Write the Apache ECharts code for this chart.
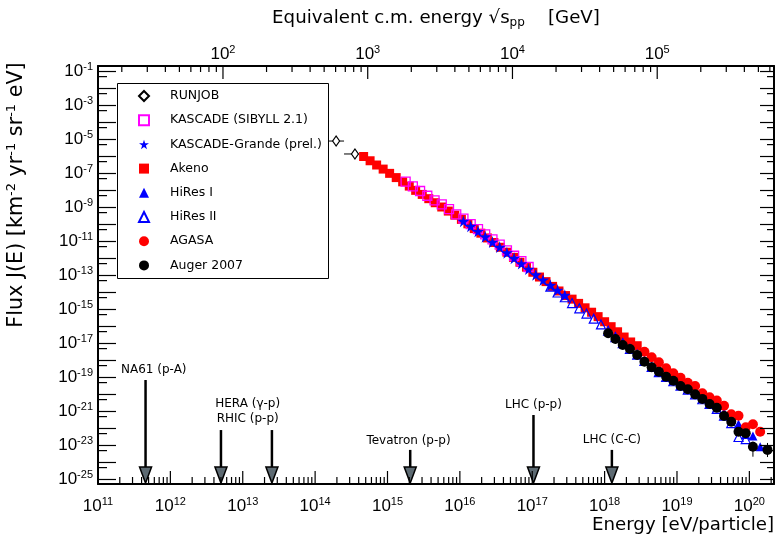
<!DOCTYPE html>
<html>
<head>
<meta charset="utf-8">
<script src="https://cdn.jsdelivr.net/npm/echarts@6/dist/echarts.min.js"></script>
<style>
html, body { margin: 0; padding: 0; background: #fff; }
#chart { width: 777px; height: 537px; }
</style>
</head>
<body>
<div id="chart"></div>
<script>
// axis ranges (energy in eV, flux in km^-2 yr^-1 sr^-1 eV^-1)
const xMin = 1e11, xMax = 2.19e20;
const yMin = 5.43e-26, yMax = 0.211;
const protonMass = 0.938; // GeV, for the sqrt(s) axis on top

const xMajor = [1e11, 1e12, 1e13, 1e14, 1e15, 1e16, 1e17, 1e18, 1e19, 1e20];
const yMajor = [1e-25, 1e-24, 1e-23, 1e-22, 1e-21, 1e-20, 1e-19, 1e-18, 1e-17, 1e-16, 1e-15, 1e-14, 1e-13,
  1e-12, 1e-11, 1e-10, 1e-9, 1e-8, 1e-7, 1e-6, 1e-5, 1e-4, 1e-3, 1e-2, 1e-1];
const yLabels = [1e-25, 1e-23, 1e-21, 1e-19, 1e-17, 1e-15, 1e-13, 1e-11, 1e-9, 1e-7, 1e-5, 1e-3, 1e-1];
const topMajor = [1e2, 1e3, 1e4, 1e5];

// data [E, J]
const runjob = [[1.95e14, 8.13e-6], [3.55e14, 1.41e-6]];
const akeno = [
  [4.68e14, 1.00e-6], [5.75e14, 5.62e-7], [7.08e14, 3.16e-7], [8.71e14, 1.82e-7], [1.07e15, 1.02e-7],
  [1.32e15, 5.75e-8], [1.62e15, 3.24e-8], [2.00e15, 1.82e-8], [2.45e15, 1.02e-8], [3.02e15, 5.89e-9],
  [3.72e15, 3.31e-9], [4.57e15, 1.91e-9], [5.62e15, 1.07e-9], [6.92e15, 6.17e-10], [8.51e15, 3.55e-10],
  [1.05e16, 2.00e-10], [1.29e16, 1.10e-10], [1.58e16, 5.75e-11], [1.95e16, 3.09e-11], [2.40e16, 1.62e-11],
  [2.95e16, 8.71e-12], [3.63e16, 4.57e-12], [4.47e16, 2.34e-12], [5.50e16, 1.17e-12], [6.76e16, 6.03e-13],
  [8.32e16, 3.09e-13], [1.02e17, 1.55e-13], [1.26e17, 8.13e-14], [1.55e17, 4.37e-14], [1.91e17, 2.29e-14],
  [2.34e17, 1.23e-14], [2.88e17, 6.61e-15], [3.55e17, 4.07e-15], [4.37e17, 2.29e-15], [5.37e17, 1.26e-15],
  [6.61e17, 6.92e-16], [8.13e17, 3.80e-16], [1.00e18, 1.91e-16], [1.23e18, 9.77e-17], [1.51e18, 4.90e-17],
  [1.86e18, 2.40e-17], [2.29e18, 1.23e-17], [2.82e18, 7.41e-18]
];
const kascade = [
  [1.78e15, 3.31e-8], [2.24e15, 1.74e-8], [2.82e15, 9.33e-9], [3.55e15, 4.90e-9], [4.47e15, 2.63e-9],
  [5.62e15, 1.51e-9], [7.08e15, 7.94e-10], [8.91e15, 3.98e-10], [1.12e16, 2.19e-10], [1.41e16, 1.05e-10],
  [1.78e16, 5.37e-11], [2.24e16, 2.63e-11], [2.82e16, 1.32e-11], [3.55e16, 6.61e-12], [4.47e16, 3.02e-12],
  [5.62e16, 1.45e-12], [7.08e16, 6.92e-13], [8.91e16, 3.16e-13]
];
const kascadeGrande = [
  [1.12e16, 1.58e-10], [1.41e16, 7.94e-11], [1.78e16, 3.98e-11], [2.24e16, 1.91e-11], [2.82e16, 9.33e-12],
  [3.55e16, 4.68e-12], [4.47e16, 2.19e-12], [5.62e16, 1.05e-12], [7.08e16, 5.01e-13], [8.91e16, 2.40e-13],
  [1.12e17, 1.12e-13], [1.41e17, 5.50e-14], [1.78e17, 2.69e-14], [2.24e17, 1.38e-14], [2.82e17, 6.92e-15]
];
const hires2 = [
  [1.78e17, 2.19e-14], [2.24e17, 1.00e-14], [2.82e17, 5.25e-15], [3.55e17, 2.40e-15], [4.47e17, 1.17e-15],
  [5.62e17, 5.75e-16], [7.08e17, 2.88e-16], [8.91e17, 1.32e-16], [1.12e18, 5.62e-17], [1.41e18, 2.40e-17],
  [1.78e18, 1.05e-17], [2.24e18, 4.79e-18], [2.82e18, 2.19e-18], [3.55e18, 9.33e-19], [4.47e18, 4.27e-19],
  [5.62e18, 2.09e-19], [7.08e18, 1.07e-19], [8.91e18, 6.03e-20], [1.12e19, 3.31e-20], [1.41e19, 1.91e-20],
  [1.78e19, 1.02e-20], [2.24e19, 5.25e-21], [2.82e19, 2.82e-21], [3.55e19, 1.41e-21], [4.47e19, 5.62e-22],
  [5.62e19, 2.09e-22], [7.08e19, 3.16e-23], [8.91e19, 2.40e-23]
];
const hires1 = [
  [3.55e18, 9.55e-19], [4.47e18, 4.37e-19], [5.62e18, 2.19e-19], [7.08e18, 1.15e-19], [8.91e18, 6.61e-20],
  [1.12e19, 3.55e-20], [1.41e19, 2.09e-20], [1.78e19, 1.10e-20], [2.24e19, 5.75e-21], [2.82e19, 3.16e-21],
  [3.55e19, 1.66e-21], [4.47e19, 8.91e-22], [5.62e19, 3.80e-22], [7.08e19, 1.82e-22], [8.91e19, 4.47e-23],
  [1.12e20, 3.63e-23], [1.41e20, 8.51e-24]
];
const agasa = [
  [3.55e18, 3.31e-18], [4.47e18, 1.55e-18], [5.62e18, 7.76e-19], [7.08e18, 3.47e-19], [8.91e18, 1.78e-19],
  [1.12e19, 9.77e-20], [1.41e19, 4.90e-20], [1.78e19, 3.16e-20], [2.24e19, 1.17e-20], [2.82e19, 6.92e-21],
  [3.55e19, 4.37e-21], [4.47e19, 2.19e-21], [5.62e19, 6.92e-22], [7.08e19, 5.62e-22], [8.91e19, 1.17e-22],
  [1.12e20, 1.78e-22], [1.41e20, 6.46e-23]
];
const auger = [
  [1.12e18, 3.98e-17], [1.41e18, 1.82e-17], [1.78e18, 8.13e-18], [2.24e18, 4.79e-18], [2.82e18, 2.09e-18],
  [3.55e18, 8.51e-19], [4.47e18, 3.98e-19], [5.62e18, 2.19e-19], [7.08e18, 1.12e-19], [8.91e18, 6.46e-20],
  [1.12e19, 3.16e-20], [1.41e19, 2.04e-20], [1.78e19, 1.02e-20], [2.24e19, 5.50e-21], [2.82e19, 2.75e-21],
  [3.55e19, 1.66e-21], [4.47e19, 5.50e-22], [5.62e19, 2.51e-22], [7.08e19, 6.46e-23], [8.91e19, 5.25e-23],
  [1.12e20, 8.51e-24], [1.78e20, 5.50e-24]
];
// error bars [E1, J1, E2, J2]
const errorBars = [
  [1.51e14, 8.13e-6, 2.51e14, 8.13e-6], [2.51e14, 1.41e-6, 4.07e14, 1.41e-6],
  [1.12e20, 1.70e-23, 1.12e20, 2.19e-24], [1.78e20, 1.41e-23, 1.78e20, 2.09e-24]
];

// accelerator arrows
const arrowEnergy = [4.54e11, 5.0e12, 2.53e13, 2.06e15, 1.04e17, 1.26e18];
const arrowTop = [7.1e-20, 8.1e-23, 8.1e-23, 5.5e-24, 6.2e-22, 5.5e-24];
const annotText = ['NA61 (p-A)', 'HERA (\u03b3-p)\nRHIC (p-p)', 'Tevatron (p-p)', 'LHC (p-p)', 'LHC (C-C)'];
const annotEnergy = [5.9e11, 1.17e13, 1.95e15, 1.04e17, 1.26e18];
const annotFlux = [2.75e-19, 1.0e-21, 1.82e-23, 2.4e-21, 2.09e-23];

const legendNames = ['RUNJOB', 'KASCADE (SIBYLL 2.1)', 'KASCADE-Grande (prel.)', 'Akeno', 'HiRes I', 'HiRes II', 'AGASA', 'Auger 2007'];

function minorOf(majors, lo, hi) {
  const out = [];
  majors.forEach(function (m) {
    for (let k = 2; k <= 9; k++) {
      const v = m * k;
      if (v > lo && v < hi) out.push(v);
    }
  });
  return out;
}

function sqrtsToEnergy(v) { return v * v / (2 * protonMass) * 1e9; }
const topMin = Math.sqrt(2 * protonMass * xMin / 1e9);
const topMax = Math.sqrt(2 * protonMass * xMax / 1e9);
const xMinor = minorOf(xMajor, xMin, xMax);
const topMinor = minorOf([10].concat(topMajor), topMin, topMax);
const yMinor = yMajor.map(function (v) { return v * 0.5; }).filter(function (v) { return v > yMin; });

const labelFont = 'Liberation Sans';
const powRich = {
  b: { fontFamily: labelFont, fontSize: 17, color: '#000' },
  s: { fontFamily: labelFont, fontSize: 11, color: '#000', padding: [0, 0, 10, 0] }
};
function powLabel(v) {
  const e = Math.round(Math.log10(v));
  return '{b|10}{s|' + e + '}';
}

function baseAxis(extra) {
  return Object.assign({
    type: 'log', logBase: 10, gridIndex: 0,
    splitLine: { show: false },
    axisTick: { show: false },
    axisLine: { show: true, onZero: false, lineStyle: { color: '#000', width: 2 } },
    axisLabel: { show: false }
  }, extra);
}

// inward ticks for top / left / right frames, same pattern as the arrow series
// rows: [E, J, dx, dy] with the pixel direction and length of the tick
function frameTicks(name, rows) {
  return {
    type: 'custom', name: name, xAxisIndex: 0, yAxisIndex: 0, z: 6,
    data: rows, encode: { x: 0, y: 1 },
    renderItem: function (params, api) {
      const p = api.coord([api.value(0), api.value(1)]);
      return {
        type: 'line',
        shape: { x1: p[0], y1: p[1], x2: p[0] + api.value(2), y2: p[1] + api.value(3) },
        style: { stroke: '#000', lineWidth: 1.2 }
      };
    }
  };
}
const topTickRows = topMajor.map(function (v) { return [sqrtsToEnergy(v), yMax, 0, 13]; })
  .concat(topMinor.map(function (v) { return [sqrtsToEnergy(v), yMax, 0, 6]; }));
const leftTickRows = yMajor.map(function (v) { return [xMin, v, 18, 0]; })
  .concat(yMinor.map(function (v) { return [xMin, v, 9, 0]; }));
const rightTickRows = yMajor.map(function (v) { return [xMax, v, -14, 0]; })
  .concat(yMinor.map(function (v) { return [xMax, v, -7, 0]; }));

const star = 'path://M50,0 L61,35 L98,35 L68,57 L79,91 L50,70 L21,91 L32,57 L2,35 L39,35 Z';

const staticGraphic = [
  {
    type: 'rect', z: 0,
    shape: { x: 117.5, y: 83.5, width: 211, height: 195 },
    style: { fill: null, stroke: '#000', lineWidth: 1 }
  },
  {
    type: 'text', x: 17, y: 195, rotation: Math.PI / 2,
    style: {
      text: '{a|Flux J(E) [km}{s|-2}{a| yr}{s|-1}{a| sr}{s|-1}{a| eV]}',
      align: 'center', verticalAlign: 'middle',
      rich: {
        a: { fontFamily: 'DejaVu Sans', fontSize: 20.7, fill: '#000' },
        s: { fontFamily: 'DejaVu Sans', fontSize: 13, fill: '#000', padding: [0, 0, 10, 0] }
      }
    }
  }
];

const chart = echarts.init(document.getElementById('chart'));
chart.setOption({
  animation: false,
  backgroundColor: '#fff',
  grid: { left: 98, right: 3, top: 66, bottom: 53 },
  xAxis: [
    baseAxis({
      position: 'bottom', min: xMin, max: xMax,
      axisLabel: { show: true, customValues: xMajor, formatter: powLabel, margin: 12, rich: powRich },
      name: 'Energy [eV/particle]', nameLocation: 'end', nameGap: 0,
      nameTextStyle: { fontFamily: 'DejaVu Sans', fontSize: 18.2, color: '#000', align: 'right', verticalAlign: 'top', padding: [32, 0, 0, 0] }
    }),
    baseAxis({
      position: 'top', min: topMin, max: topMax,
      axisLabel: { show: true, customValues: topMajor, formatter: powLabel, margin: 1, rich: powRich },
      name: '{a|Equivalent c.m. energy }{a|\u221as}{p|pp}{a|    [GeV]}',
      nameLocation: 'middle', nameGap: 37,
      nameTextStyle: {
        rich: {
          a: { fontFamily: 'DejaVu Sans', fontSize: 18.2, color: '#000' },
          p: { fontFamily: 'DejaVu Sans', fontSize: 12, color: '#000', padding: [10, 0, 0, 0] }
        }
      }
    })
  ],
  yAxis: [
    baseAxis({
      position: 'left', min: yMin, max: yMax,
      axisLabel: { show: true, customValues: yLabels, formatter: powLabel, margin: 5, rich: powRich }
    }),
    baseAxis({ position: 'right', min: yMin, max: yMax })
  ],
  legend: {
    orient: 'vertical', left: 138, top: 89, padding: 0, itemGap: 10.2,
    itemWidth: 10, itemHeight: 10, selectedMode: false,
    textStyle: { fontFamily: 'DejaVu Sans', fontSize: 12.5, color: '#000', lineHeight: 14, padding: [0, 0, 0, 16] },
    data: legendNames
  },
  graphic: staticGraphic,
  series: [
    {
      type: 'custom', name: 'errors', xAxisIndex: 0, yAxisIndex: 0, z: 1,
      data: errorBars, encode: { x: [0, 2], y: [1, 3] },
      renderItem: function (params, api) {
        const a = api.coord([api.value(0), api.value(1)]);
        const b = api.coord([api.value(2), api.value(3)]);
        return { type: 'line', shape: { x1: a[0], y1: a[1], x2: b[0], y2: b[1] }, style: { stroke: '#000', lineWidth: 1 } };
      }
    },
    {
      name: 'RUNJOB', type: 'scatter', data: runjob, symbol: 'diamond', symbolSize: [7, 10], z: 3,
      itemStyle: { color: '#fff', borderColor: '#000', borderWidth: 1.2, opacity: 1 }
    },
    {
      name: 'Akeno', type: 'scatter', data: akeno, symbol: 'rect', symbolSize: 9, z: 2,
      itemStyle: { color: '#ff0000', opacity: 1 }
    },
    {
      name: 'KASCADE (SIBYLL 2.1)', type: 'scatter', data: kascade, symbol: 'rect', symbolSize: 9, z: 3,
      itemStyle: { color: 'rgba(255,255,255,0)', borderColor: '#ff00ff', borderWidth: 1.3, opacity: 1 }
    },
    {
      name: 'KASCADE-Grande (prel.)', type: 'scatter', data: kascadeGrande, symbol: star, symbolSize: 12, z: 3,
      itemStyle: { color: '#0000ff', opacity: 1 }
    },
    {
      name: 'HiRes II', type: 'scatter', data: hires2, symbol: 'triangle', symbolSize: 9, z: 3,
      itemStyle: { color: 'rgba(255,255,255,0)', borderColor: '#0000ff', borderWidth: 1.2, opacity: 1 }
    },
    {
      name: 'HiRes I', type: 'scatter', data: hires1, symbol: 'triangle', symbolSize: 9, z: 3,
      itemStyle: { color: '#0000ff', opacity: 1 }
    },
    {
      name: 'AGASA', type: 'scatter', data: agasa, symbol: 'circle', symbolSize: 10, z: 4,
      itemStyle: { color: '#ff0000', opacity: 1 }
    },
    {
      name: 'Auger 2007', type: 'scatter', data: auger, symbol: 'circle', symbolSize: 10, z: 5,
      itemStyle: { color: '#000', opacity: 1 }
    },
    {
      type: 'custom', name: 'arrows', xAxisIndex: 0, yAxisIndex: 0, z: 6,
      data: arrowEnergy.map(function (e, i) { return [e, arrowTop[i]]; }),
      renderItem: function (params, api) {
        const tp = api.coord([api.value(0), api.value(1)]);
        const tip = api.coord([api.value(0), yMin]);
        const baseY = tip[1] - 17;
        return {
          type: 'group',
          children: [
            { type: 'line', shape: { x1: tp[0], y1: tp[1], x2: tp[0], y2: baseY }, style: { stroke: '#000', lineWidth: 2.5 } },
            { type: 'polygon', shape: { points: [[tip[0] - 6, baseY], [tip[0] + 6, baseY], [tip[0], tip[1] - 1]] },
              style: { fill: '#5d6a72', stroke: '#000', lineWidth: 1.5 } }
          ]
        };
      }
    },
    {
      type: 'custom', name: 'labels', xAxisIndex: 0, yAxisIndex: 0, z: 6,
      data: annotEnergy.map(function (e, i) { return [e, annotFlux[i], i]; }),
      renderItem: function (params, api) {
        const p = api.coord([api.value(0), api.value(1)]);
        return {
          type: 'text', x: p[0], y: p[1],
          style: {
            text: annotText[api.value(2)], fontFamily: 'DejaVu Sans', fontSize: 12, fill: '#000',
            align: 'center', verticalAlign: 'middle', lineHeight: 15
          }
        };
      }
    },
    frameTicks('ticksTop', topTickRows),
    frameTicks('ticksLeft', leftTickRows),
    frameTicks('ticksRight', rightTickRows)
  ]
});

// bottom tick marks, placed through the x axis scale
try {
  const px = function (axis, v) { return chart.convertToPixel(axis, v); };
  const frameBottom = px({ yAxisIndex: 0 }, yMin);
  const tickMarks = [];
  const addTick = function (x1, y1, x2, y2) {
    tickMarks.push({ type: 'line', silent: true, z: 10, shape: { x1: x1, y1: y1, x2: x2, y2: y2 }, style: { stroke: '#000', lineWidth: 1.2 } });
  };
  xMajor.forEach(function (v) { const x = px({ xAxisIndex: 0 }, v); addTick(x, frameBottom, x, frameBottom - 13); });
  xMinor.forEach(function (v) { const x = px({ xAxisIndex: 0 }, v); addTick(x, frameBottom, x, frameBottom - 7); });
  chart.setOption({ graphic: staticGraphic.concat(tickMarks) });
} catch (e) {
  console.log(e);
}
</script>
</body>
</html>
